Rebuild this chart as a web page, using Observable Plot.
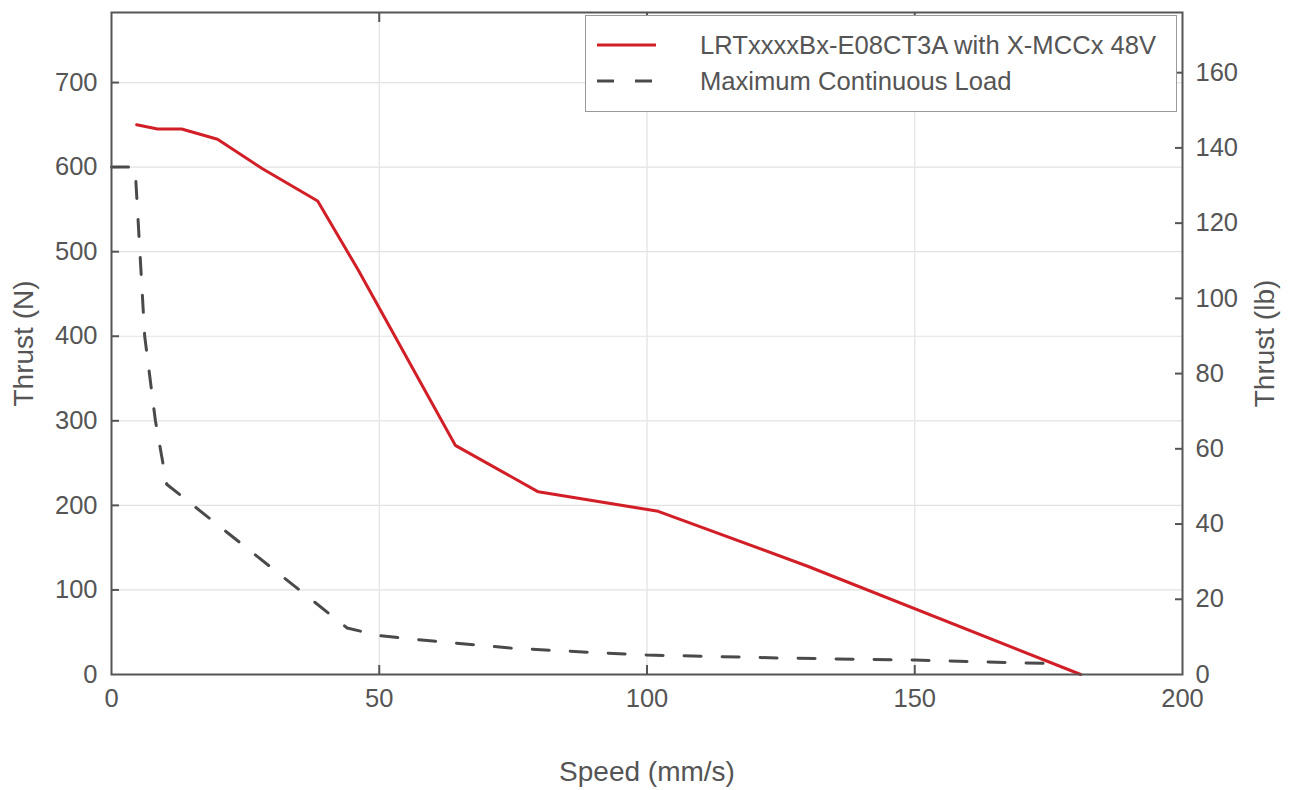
<!DOCTYPE html>
<html>
<head>
<meta charset="utf-8">
<script src="https://cdn.jsdelivr.net/npm/d3@7"></script>
<script src="https://cdn.jsdelivr.net/npm/@observablehq/plot@0.6"></script>
<style>
  body { margin: 0; background: #fff; }
  #wrap { position: relative; width: 1293px; height: 790px; font-family: "Liberation Sans", Arial, sans-serif; }
  #legend { position: absolute; left: 585px; top: 15px; width: 590px; height: 95px; border: 1.5px solid #999; background: #fff; box-sizing: content-box; }
  .row { position: absolute; left: 0; height: 30px; display: flex; align-items: center; font-size: 25.6px; color: #555; white-space: nowrap; }
  .row svg { margin-left: 11px; margin-right: 44px; }
</style>
</head>
<body>
<div id="wrap"></div>
<script>
const LB = 4.448;
// Motor thrust curve (N) vs speed (mm/s)
const curveSpeed  = [4.7, 8.6, 13.1, 19.8, 28.2, 38.5, 46.1, 64.2, 79.7, 102.1, 130, 181];
const curveThrust = [650, 645, 645, 633, 598, 560, 478, 271, 216, 193, 128, 0];
// Maximum continuous load (N) vs speed (mm/s)
const loadSpeed  = [0, 4.4, 6.2, 8.2, 10.3, 44, 50, 60, 75, 90, 100, 125, 150, 175];
const loadThrust = [600, 600, 400, 300, 225, 55, 46, 39.5, 31, 26, 23, 19.5, 17, 13];
// Ticks
const xTicks = [0, 50, 100, 150, 200];
const yTicksN = [0, 100, 200, 300, 400, 500, 600, 700];
const yTicksLb = [0, 20, 40, 60, 80, 100, 120, 140, 160];
const yMaxLb = 176;
const seriesNames = ["LRTxxxxBx-E08CT3A with X-MCCx 48V", "Maximum Continuous Load"];
const colors = ["#d21f27", "#4a4a4a"];

const curve = curveSpeed.map((s, i) => ({speed: s, thrust: curveThrust[i]}));
const load = loadSpeed.map((s, i) => ({speed: s, thrust: loadThrust[i]}));
const rightTicks = yTicksLb.map(v => v * LB);
const axisColor = "#555";

const chart = Plot.plot({
  width: 1293,
  height: 790,
  marginLeft: 111,
  marginRight: 111,
  marginTop: 12,
  marginBottom: 116,
  style: {fontFamily: '"Liberation Sans", Arial, sans-serif', color: "#555", background: "#fff"},
  x: {domain: [0, 200]},
  y: {domain: [0, yMaxLb * LB]},
  marks: [
    Plot.gridX([50, 100, 150], {stroke: "#e2e2e2", strokeOpacity: 1, strokeWidth: 1.2}),
    Plot.gridY(yTicksN.slice(1), {stroke: "#e2e2e2", strokeOpacity: 1, strokeWidth: 1.2}),
    // inward ticks
    Plot.axisY(yTicksN.slice(1), {anchor: "left", tickSize: 8, dx: 8, text: null, label: null, stroke: axisColor, strokeWidth: 2}),
    Plot.axisY(rightTicks.slice(1), {anchor: "right", tickSize: 8, dx: -8, text: null, label: null, stroke: axisColor, strokeWidth: 2}),
    Plot.axisX([50, 100, 150], {anchor: "bottom", tickSize: 9, dy: -9, text: null, label: null, stroke: axisColor, strokeWidth: 2}),
    Plot.axisX([50, 100, 150], {anchor: "top", tickSize: 9, dy: 9, text: null, label: null, stroke: axisColor, strokeWidth: 2}),
    // tick labels
    Plot.axisY(yTicksN, {anchor: "left", tickSize: 0, tickPadding: 14, fontSize: 25.5, fill: "#555", label: null}),
    Plot.axisY(rightTicks, {anchor: "right", tickSize: 0, tickPadding: 13, fontSize: 25.5, fill: "#555", label: null, tickFormat: d => String(Math.round(d / LB))}),
    Plot.axisX(xTicks, {anchor: "bottom", tickSize: 0, tickPadding: 14, fontSize: 25.5, fill: "#555", label: null}),
    // series
    Plot.line(load, {x: "speed", y: "thrust", stroke: colors[1], strokeWidth: 3, strokeDasharray: "17,21"}),
    Plot.line(curve, {x: "speed", y: "thrust", stroke: colors[0], strokeWidth: 3}),
    Plot.frame({stroke: axisColor, strokeWidth: 2}),
    // axis titles
    Plot.text(["Thrust (N)"], {frameAnchor: "left", dx: -87, rotate: -90, textAnchor: "middle", fontSize: 28, fill: "#555"}),
    Plot.text(["Thrust (lb)"], {frameAnchor: "right", dx: 83, rotate: -90, textAnchor: "middle", fontSize: 28, fill: "#555"}),
    Plot.text(["Speed (mm/s)"], {frameAnchor: "bottom", dy: 106, textAnchor: "middle", fontSize: 28, fill: "#555"})
  ]
});

const wrap = document.getElementById("wrap");
wrap.appendChild(chart);

const legend = document.createElement("div");
legend.id = "legend";
legend.innerHTML = `
  <div class="row" style="top:14px"><svg width="59" height="10"><line x1="0" y1="5" x2="59" y2="5" stroke="${colors[0]}" stroke-width="3"/></svg><span>${seriesNames[0]}</span></div>
  <div class="row" style="top:50px"><svg width="59" height="10"><line x1="0" y1="5" x2="59" y2="5" stroke="${colors[1]}" stroke-width="3" stroke-dasharray="17,21"/></svg><span>${seriesNames[1]}</span></div>`;
wrap.appendChild(legend);
</script>
</body>
</html>
